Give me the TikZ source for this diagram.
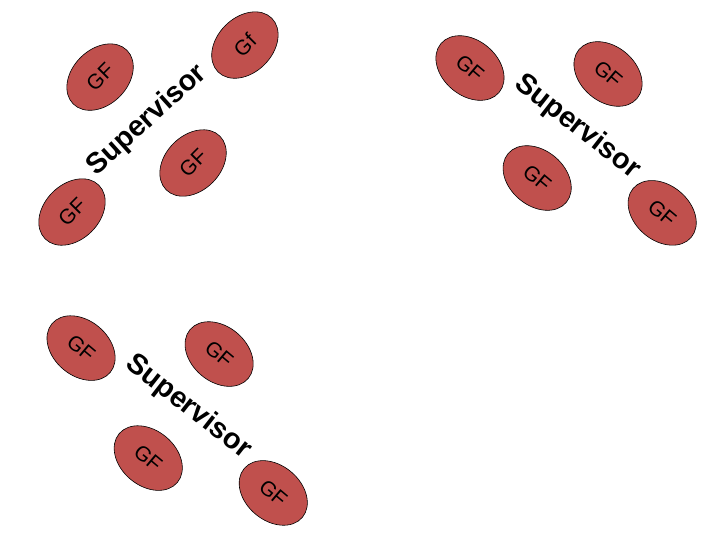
\documentclass[tikz,border=0pt]{standalone}
\usepackage{fontspec}
\setmainfont{Liberation Sans}
\usetikzlibrary{shapes.geometric}
\definecolor{gfred}{RGB}{192,80,77}

\begin{document}
\begin{tikzpicture}[
  gf/.style={ellipse,draw,fill=gfred,line width=0.6pt,inner sep=0pt,
    minimum width=2.68cm,minimum height=1.95cm,font=\fontsize{21}{25}\selectfont},
  sup/.style={inner sep=0pt,font=\fontsize{29}{34}\selectfont\bfseries}]
\useasboundingbox (0,0) rectangle (25.4,19.05);
% first group, rising to the right
\node[gf,rotate=45] (gf1-1) at (3.53,16.33) {GF};
\node[gf,rotate=45] (gf1-2) at (8.64,17.46) {Gf};
\node[gf,rotate=45] (gf1-3) at (6.81,13.30) {GF};
\node[gf,rotate=45] (gf1-4) at (2.54,11.57) {GF};
\node[sup,rotate=42] (sup1) at (5.19,14.80) {Supervisor};
% second and third group, falling to the right
\foreach \dx/\dy/\g in {0/0/2,-13.72/-9.88/3}{
\begin{scope}[shift={(\dx,\dy)}]
\node[gf,rotate=-40] (gf\g-1) at (16.58,16.65) {GF};
\node[gf,rotate=-40] (gf\g-2) at (21.45,16.44) {GF};
\node[gf,rotate=-40] (gf\g-3) at (18.95,12.77) {GF};
\node[gf,rotate=-40] (gf\g-4) at (23.36,11.54) {GF};
\node[sup,rotate=-38] (sup\g) at (20.36,14.57) {Supervisor};
\end{scope}}
\end{tikzpicture}
\end{document}
